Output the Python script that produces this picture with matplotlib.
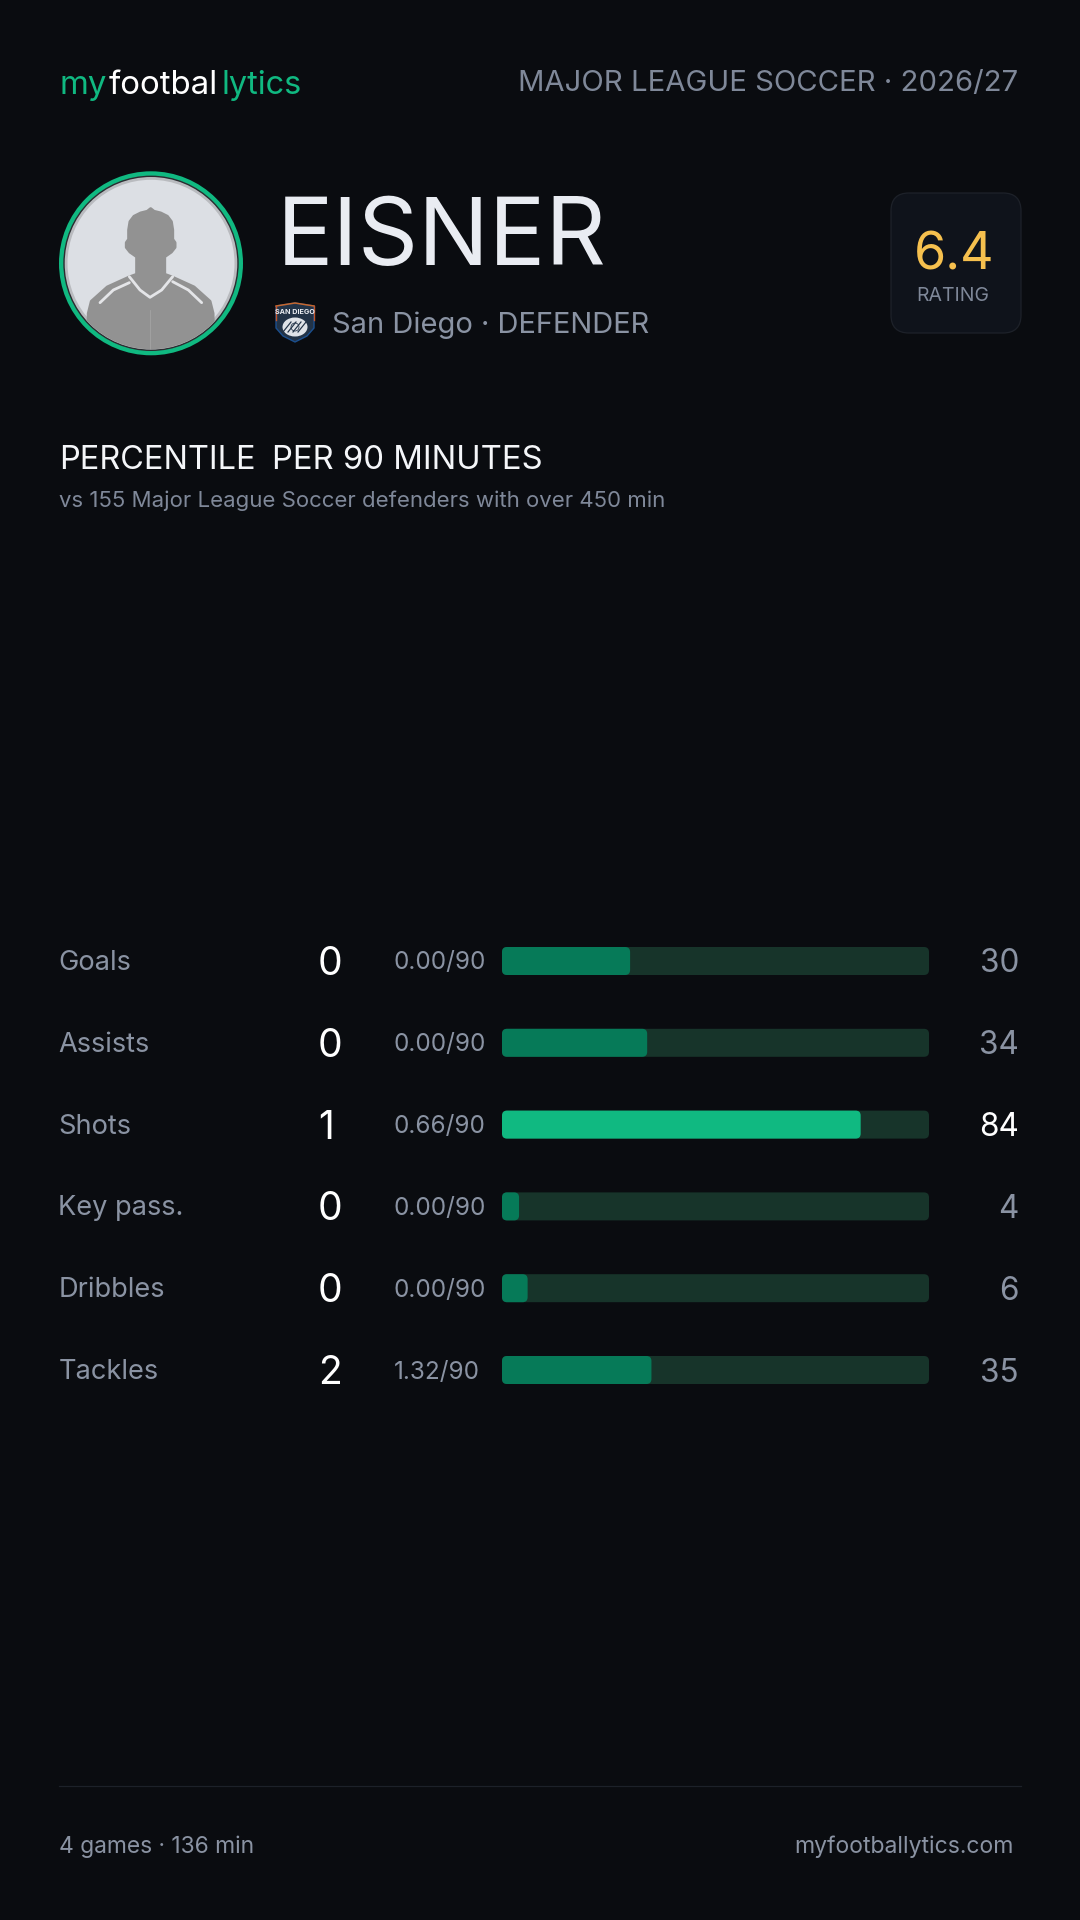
import matplotlib
matplotlib.use("Agg")
import matplotlib.pyplot as plt
from matplotlib.patches import FancyBboxPatch, Circle, PathPatch, Polygon, Ellipse
from matplotlib.path import Path

# ---------- data ----------
metrics = ["Goals", "Assists", "Shots", "Key pass.", "Dribbles", "Tackles"]
counts = [0, 0, 1, 0, 0, 2]
per90 = ["0.00/90", "0.00/90", "0.66/90", "0.00/90", "0.00/90", "1.32/90"]
percentiles = [30, 34, 84, 4, 6, 35]
player = "EISNER"
team_line = "San Diego · DEFENDER"
rating = "6.4"
league_line = "MAJOR LEAGUE SOCCER · 2026/27"
footer_left = "4 games · 136 min"
footer_right = "myfootballytics.com"

# ---------- style ----------
BG = "#0a0c10"
GREEN = "#10b981"
DIM = "#067a58"
TRACK = "#17342a"
GREY = "#8a93a3"
GREY2 = "#7f8899"
WHITE = "#ffffff"
W, H, DPI = 1080, 1920, 100
plt.rcParams["font.family"] = ["Inter", "DejaVu Sans"]


def pt(px):
    return px * 72 / DPI


fig = plt.figure(figsize=(W / DPI, H / DPI), dpi=DPI, facecolor=BG)
ax0 = fig.add_axes([0, 0, 1, 1])
ax0.set_xlim(0, W)
ax0.set_ylim(H, 0)
ax0.axis("off")


def txt(x, y, s, size, color=GREY, ha="left", weight="normal", ax=ax0):
    return ax.text(x, y, s, fontsize=pt(size), color=color, ha=ha, va="center_baseline", weight=weight)


# ---------- header ----------
txt(59, 82, "my", 33, GREEN)
txt(108.5, 82, "footbal", 33, WHITE)
txt(222, 82, "lytics", 32.5, GREEN)
txt(1018, 81, league_line, 29.3, GREY2, ha="right")

# ---------- avatar (pixel artwork) ----------
CX, CY = 151, 263.3


def z(p):
    return [(30 + a / 3, 150 + b / 3) for a, b in p]


ax0.add_patch(Circle((CX, CY), 89.5, fc="#b9bbbf", ec=GREEN, lw=pt(5)))
ax0.add_patch(Circle((CX, CY), 87, fc="none", ec="#2a2c30", lw=pt(1.4)))
ax0.add_patch(Circle((CX, CY), 83.5, fc="#dcdfe4", ec="none"))
clip = Circle((CX, CY), 86, transform=ax0.transData)
left = [(362, 176), (352, 184), (332, 189), (312, 199), (300, 215), (296, 240), (296, 268),
        (289, 278), (289, 292), (300, 306), (320, 320), (320, 373), (298, 381), (232, 411),
        (184, 454), (175, 490), (172, 620)]
right = [(724 - a, b) for a, b in left[1:]][::-1]
sil = Polygon(z(left + right), closed=True, fc="#929292", ec="#929292", lw=pt(3), joinstyle="round")
ax0.add_patch(sil)
sil.set_clip_path(clip)
for line in ([(298, 380), (330, 420), (360, 442), (395, 420), (428, 380)],
             [(298, 398), (250, 420), (210, 458)],
             [(428, 395), (475, 420), (515, 458)]):
    xs, ys = zip(*z(line))
    ax0.plot(xs, ys, color="#e4e5e8", lw=pt(2.8), solid_capstyle="round", solid_joinstyle="round")
ln, = ax0.plot(*zip(*z([(361, 480), (361, 600)])), color="#a4a4a4", lw=pt(0.8))
ln.set_clip_path(clip)

# ---------- name + team ----------
txt(277, 231, player, 94, "#e9ecf2")
# crest
crest_pts = [(276, 306), (295, 303), (314, 306), (314, 328), (307, 336), (295, 342), (283, 336), (276, 328), (276, 306)]
shield = Path(crest_pts)
ax0.add_patch(PathPatch(shield, fc="#223347", ec="#1b4f8e", lw=pt(1.4), joinstyle="round"))
ax0.plot(*zip(*crest_pts[:3]), color="#c8662a", lw=pt(1.5))
ax0.plot([276, 276], [306, 320], color="#c0552a", lw=pt(1.4))
ax0.plot([314, 314], [306, 320], color="#c0552a", lw=pt(1.4))
ax0.text(295, 311.5, "SAN DIEGO", fontsize=pt(7.2), color="#e8ebf0", ha="center", va="center", weight="bold")
ax0.add_patch(Ellipse((295, 327), 25, 19, fc="#dfe3e8", ec="none"))
for dx in (-8, -3, 2, 7):
    ax0.plot([295 + dx - 4, 295 + dx + 4], [332, 322], color="#223347", lw=pt(1.2))
ax0.add_patch(Circle((295, 327), 4, fc="#dfe3e8", ec="#223347", lw=pt(0.8)))
txt(332, 322, team_line, 29.1, GREY)

# ---------- rating card ----------
ax0.add_patch(FancyBboxPatch((891 + 18, 193 + 18), 130 - 36, 140 - 36,
                             boxstyle="round,pad=18,rounding_size=18",
                             fc="#0f131b", ec="#1d2129", lw=pt(1.3)))
txt(954, 250, rating, 52, "#f6c04e", ha="center")
txt(953, 294, "RATING", 19.5, GREY2, ha="center")

# ---------- section title ----------
txt(59, 457, "PERCENTILE", 32.5, "#f4f6f9")
txt(272, 457, "PER 90 MINUTES", 32.8, "#f4f6f9")
txt(59, 499, "vs 155 Major League Soccer defenders with over 450 min", 22.2, GREY2)

# ---------- bars ----------
ROW = 81.8
TOP = 961 - ROW / 2
ax = fig.add_axes([502 / W, 1 - (TOP + 6 * ROW) / H, 427 / W, 6 * ROW / H], facecolor="none")
ax.set_xlim(0, 100)
ax.set_ylim(5.5, -0.5)
ax.axis("off")
BAR_H = 28 / ROW
RX = 5 * 100 / 427  # 5 px radius in x units
ASPECT = (1 / ROW) / (100 / 427)


def rounded_bar(row, value, color, z_):
    p = FancyBboxPatch((RX, row - BAR_H / 2 + RX * ASPECT), value - 2 * RX, BAR_H - 2 * RX * ASPECT,
                       boxstyle=f"round,pad={RX},rounding_size={RX}", mutation_aspect=ASPECT,
                       fc=color, ec="none", zorder=z_)
    ax.add_patch(p)


for i, (m, c, r, v) in enumerate(zip(metrics, counts, per90, percentiles)):
    rounded_bar(i, 100, TRACK, 1)
    rounded_bar(i, v, GREEN if v >= 50 else DIM, 2)
    y = 961 + i * ROW
    txt(58.5, y - 1, m, 27.2, GREY)
    txt(318, y - 0.5, str(c), 39, WHITE)
    txt(393.5, y - 0.5, r, 24.3, GREY)
    txt(1019, y - 0.5, str(v), 31.5, WHITE if v >= 50 else GREY, ha="right")

# ---------- footer ----------
ax0.plot([59, 1021], [1786, 1786], color="#1d2129", lw=pt(1.2))
txt(59, 1844, footer_left, 22.8, GREY)
txt(1013.5, 1844, footer_right, 23, GREY, ha="right")

fig.savefig("out.png", dpi=DPI, facecolor=BG)
